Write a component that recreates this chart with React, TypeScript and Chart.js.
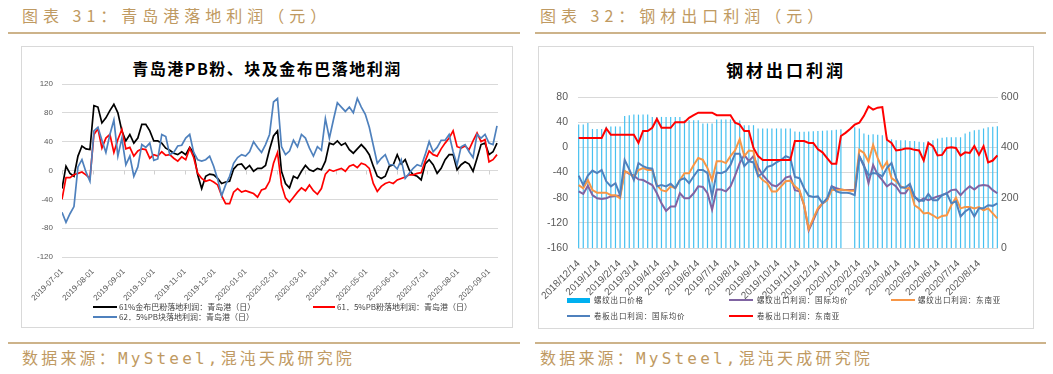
import React, { useEffect, useRef } from "react";
import { Chart, registerables } from "chart.js";

Chart.register(...registerables);

// ================= Left chart: 青岛港落地利润 =================
const LEFT_TICK_DAYS = [0, 31, 62, 92, 123, 153, 184, 215, 244, 275, 305, 336, 366, 397, 428];
const LEFT_TICK_LABELS = [
  "2019-07-01", "2019-08-01", "2019-09-01", "2019-10-01", "2019-11-01", "2019-12-01",
  "2020-01-01", "2020-02-01", "2020-03-01", "2020-04-01", "2020-05-01", "2020-06-01",
  "2020-07-01", "2020-08-01", "2020-09-01",
];
// sample positions: every 4th day counted from 2019-07-01
const LEFT_SAMPLE_DAYS = Array.from({ length: 110 }, (_, i) => i * 4);

const JMB_61 = [
  -25, 6, -4, -8, 20, 34, 30, 29, 90, 88,
  66, 73, 83, 92, 80, 55, 41, 50, 38, 45,
  64, 64, 55, 41, 41, 38, 31, 28, 24, 22,
  26, 22, 32, 24, -6, -25, -8, -5, -6, -11,
  -18, -16, -15, 2, 8, 9, 2, 7, -1, 3,
  3, 7, 29, 48, 55,
  -1, -18, -24, -8, -11, -1, 7, 1, -1, 3,
  1, 13, 38, 36, 41, 35, 38, 29, 24, 30,
  36, 30, 22, 6, -8, -11, -8, 6, 8, 22,
  9, 15, 1, -6, -8, -13, 9, 15, 8, -4,
  3, 15, 22, 22, 1, 8, 12, 9, -1, 17,
  36, 38, 22, 26, 38,
];
const PB_FINES_615 = [
  -40, -10, -10, -6, -4, -2, -6, -11, 50, 58,
  31, 45, 50, 25, 43, 57, 30, 32, 20, 27,
  30, 29, 17, 22, 20, 26, 21, 22, 17, 13,
  19, 15, 31, 18, -4, -11, -15, -13, -16, -20,
  -35, -46, -46, -30, -25, -30, -28, -30, -32, -37,
  -27, -25, -15, 10, 25,
  -20, -38, -44, -37, -30, -24, -28, -20, -28, -33,
  -25, -5, 1, -1, 1, 3, -1, 6, 8, 4,
  10, 8, 3, -18, -29, -22, -18, -16, -18, -13,
  -11, -9, -6, -6, -4, -3, 13, 27, 22, 20,
  30, 38, 45, 55, 33, 31, 34, 29, 41, 52,
  40, 43, 12, 15, 22,
];
const PB_LUMP_625 = [
  -58, -72, -60, -50, 5, 15, -2, -15, 55, 60,
  42, 25, 50, 70, 20, 45, 8, 20, -8, 5,
  36, 32, 38, 14, 16, 50, 47, 22, 25, 34,
  35, 45, 50, 25, 15, 13, 15, 20, 6, -12,
  -35, -20, -8, 10, 18, 22, 20, 26, 40, 32,
  25, 36, 50, 95, 100,
  33, 22, 27, 42, 33, 50, 45, 31, 20, 33,
  28, 72, 45, 70, 94, 88, 82, 88, 80, 100,
  88, 78, 60, 35, 10, 17, 22, 8, 8, 2,
  15, -11, -4, 3, 8, 6, 22, 40, 26, 32,
  42, 42, 50, 26, 8, 33, 36, 26, 18, 50,
  45, 50, 38, 36, 62,
];

// ================= Right chart: 钢材出口利润 =================
const RIGHT_TICK_DAYS = [0, 31, 62, 90, 121, 151, 182, 212, 243, 274, 304, 335, 365, 396, 427, 456, 487, 517, 548, 578, 609];
const RIGHT_TICK_LABELS = [
  "2018/12/14", "2019/1/14", "2019/2/14", "2019/3/14", "2019/4/14", "2019/5/14", "2019/6/14",
  "2019/7/14", "2019/8/14", "2019/9/14", "2019/10/14", "2019/11/14", "2019/12/14", "2020/1/14",
  "2020/2/14", "2020/3/14", "2020/4/14", "2020/5/14", "2020/6/14", "2020/7/14", "2020/8/14",
];
// weekly observations, days counted from 2018/12/14
const RIGHT_WEEK_DAYS = Array.from({ length: 92 }, (_, i) => i * 7);

const REBAR_EXPORT_PRICE = [
  491, 491, 497, 473, 473, 473, 483, 483, 483, 483,
  525, 527, 530, 530, 530, 530, 521, 521, 521, 521,
  521, 521, 521, 508, 508, 508, 508, 495, 495, 495,
  511, 511, 511, 511, 507, 507, 488, 488, 488, 475,
  475, 475, 475, 475, 475, 475, 475, 463, 462, 462,
  463, 464, 465, 466, 467, 468, 470, 472, null, null,
  480, 475, 455, 450, 452, 450, 448, 440, 432, 428,
  428, 428, 425, 425, 422, 420, 425, 428, 435, 438,
  440, 440, 440, 440, 455, 462, 468, 470, 475, 480,
  482, 484,
];
const REBAR_PROFIT_INTL = [
  -70, -74, -61, -76, -81, -82, -81, -78, -77, -77,
  -38, -42, -45, -51, -52, -56, -60, -73, -89, -101,
  -94, -94, -73, -81, -81, -73, -62, -63, -73, -99,
  -67, -67, -70, -62, -45, -25, -12, -22, -14, -32,
  -44, -52, -60, -62, -56, -48, -46, -68, -70, -92,
  -132, -116, -99, -89, -84, -62, -65, -67, -68, -68,
  -68, -14, -28, -57, -28, -44, -52, -62, -57, -62,
  -73, -73, -62, -78, -86, -81, -84, -81, -78, -76,
  -73, -68, -67, -76, -68, -62, -67, -61, -60, -61,
  -68, -73,
];
const REBAR_PROFIT_SEA = [
  -60, -65, -52, -68, -72, -72, -72, -76, -76, -81,
  -38, -41, -47, -36, -33, -36, -36, -60, -68, -70,
  -62, -65, -52, -41, -41, -28, -17, -20, -33, -52,
  -22, -22, -25, -14, -5, 13, -14, -5, -6, -44,
  -52, -57, -70, -70, -62, -54, -53, -62, -68, -92,
  -130, -113, -97, -89, -84, -68, -68, -67, -68, -69,
  -69, -4, -9, -23, 4, -17, -34, -23, -49, -54,
  -62, -65, -65, -92, -97, -105, -104, -108, -113, -109,
  -108, -92, -80, -97, -95, -95, -97, -95, -100, -97,
  -105, -113,
];
const HRC_PROFIT_INTL = [
  -45, -60, -45, -37, -41, -36, -54, -62, -57, -76,
  -20, -35, -52, -25, -30, -33, -34, -62, -60, -62,
  -58, -65, -52, -49, -57, -46, -36, -36, -41, -78,
  -40, -41, -38, -28, -10, -10, -30, -22, -24, -46,
  -41, -31, -29, -24, -20, -14, -17, -47, -49, -65,
  -77, -79, -78, -89, -81, -62, -70, -72, -72, -73,
  -76, -14, -30, -44, -41, -42, -46, -33, -25, -49,
  -64, -64, -58, -79, -84, -85, -74, -84, -84, -76,
  -73, -89, -86, -110, -102, -97, -110, -97, -97, -92,
  -93, -89,
];
const HRC_PROFIT_SEA = [
  15, 15, 15, 15, 15, 15, 30, 20, 20, 20,
  20, 20, 20, 7, 26, 26, 31, 45, 31, 31,
  31, 40, 40, 40, 47, 51, 55, 55, 55, 55,
  51, 51, 51, 51, 39, 36, 26, 26, -1, -14,
  -20, -20, -20, -20, -20, -20, -20, 10, 10, 10,
  7, 7, -3, -8, -17, -26, -26, 18, 23, 29,
  36, 39, 50, 65, 60, 63, 64, 12, 7, -5,
  -4, -2, -2, -4, -5, -21, 7, 2, -13, -12,
  -1, 0, -1, -13, -8, -9, 2, -12, 2, -24,
  -21, -13,
];

const AXIS_FONT = "'Liberation Sans', 'Noto Sans CJK SC', sans-serif";
const CJK_FONT = "'Noto Sans CJK SC', 'Noto Sans', sans-serif";
const TAN = "#bf9a62";
const TAN_LINE = "#cdb38a";

const pts = (xs: number[], ys: (number | null)[]) => ys.map((y, i) => ({ x: xs[i], y }));

// small tick marks on the horizontal axis crossing at zero (left chart)
const zeroTicksPlugin = {
  id: "zeroTicks",
  beforeDatasetsDraw(chart: any) {
    const { ctx, scales } = chart;
    const x = scales.x;
    const y = scales.y;
    const y0 = y.getPixelForValue(0);
    ctx.save();
    ctx.strokeStyle = "#d0d0d0";
    ctx.lineWidth = 1;
    ctx.beginPath();
    LEFT_TICK_DAYS.forEach((d) => {
      const px = Math.round(x.getPixelForValue(d)) + 0.5;
      ctx.moveTo(px, y0);
      ctx.lineTo(px, y0 + 4);
    });
    ctx.stroke();
    ctx.restore();
  },
};

function LeftChart() {
  const ref = useRef<HTMLCanvasElement | null>(null);
  useEffect(() => {
    if (!ref.current) return;
    const line = (label: string, data: number[], color: string, order: number) => ({
      label,
      data: pts(LEFT_SAMPLE_DAYS, data),
      borderColor: color,
      backgroundColor: color,
      borderWidth: 1.7,
      pointRadius: 0,
      tension: 0,
      order,
    });
    const chart = new Chart(ref.current, {
      type: "line",
      data: {
        datasets: [
          line("62．5%PB块落地利润：青岛港（日）", PB_LUMP_625, "#4f81bd", 0),
          line("61．5%PB粉落地利润：青岛港（日）", PB_FINES_615, "#ff0000", 1),
          line("61%金布巴粉落地利润：青岛港（日）", JMB_61, "#000000", 2),
        ] as any,
      },
      plugins: [zeroTicksPlugin],
      options: {
        responsive: false,
        animation: false,
        layout: { padding: { left: 0, right: 15, top: 38, bottom: 0 } },
        plugins: { legend: { display: false }, tooltip: { enabled: false }, title: { display: false } },
        scales: {
          x: {
            type: "linear",
            min: 0,
            max: 437,
            afterBuildTicks: (s: any) => {
              s.ticks = LEFT_TICK_DAYS.map((v) => ({ value: v }));
            },
            afterFit: (s: any) => {
              s.height = 71;
            },
            grid: { display: false },
            border: { display: false },
            ticks: {
              autoSkip: false,
              minRotation: 45,
              maxRotation: 45,
              padding: 2,
              color: "#595959",
              font: { size: 8, family: AXIS_FONT },
              callback: (_v: any, i: number) => LEFT_TICK_LABELS[i],
            },
          },
          y: {
            min: -120,
            max: 120,
            afterFit: (s: any) => {
              s.width = 41;
            },
            grid: { color: "#d9d9d9", lineWidth: 1, drawTicks: false },
            border: { display: false },
            ticks: { stepSize: 40, padding: 9, color: "#595959", font: { size: 8, family: AXIS_FONT } },
          },
        },
      } as any,
    });
    return () => chart.destroy();
  }, []);
  return (
    <canvas
      ref={ref}
      width={492}
      height={282}
      style={{ position: "absolute", left: 21, top: 46, width: 492, height: 282 }}
    />
  );
}

function RightChart() {
  const ref = useRef<HTMLCanvasElement | null>(null);
  useEffect(() => {
    if (!ref.current) return;
    const line = (label: string, data: number[], color: string, order: number) => ({
      type: "line",
      label,
      data: pts(RIGHT_WEEK_DAYS, data),
      borderColor: color,
      backgroundColor: color,
      borderWidth: 2,
      pointRadius: 0,
      tension: 0,
      yAxisID: "y",
      order,
    });
    const chart = new Chart(ref.current, {
      type: "bar",
      data: {
        datasets: [
          line("卷板出口利润：东南亚", HRC_PROFIT_SEA, "#ff0000", 0),
          line("卷板出口利润：国际均价", HRC_PROFIT_INTL, "#4f81bd", 1),
          line("螺纹出口利润：东南亚", REBAR_PROFIT_SEA, "#f79646", 2),
          line("螺纹出口利润：国际均价", REBAR_PROFIT_INTL, "#8064a2", 3),
          {
            type: "bar",
            label: "螺纹出口价格",
            data: pts(RIGHT_WEEK_DAYS, REBAR_EXPORT_PRICE),
            backgroundColor: "#45c0f0",
            borderWidth: 0,
            inflateAmount: 0,
            barThickness: 1.2,
            yAxisID: "y1",
            order: 4,
          },
        ] as any,
      },
      options: {
        responsive: false,
        animation: false,
        layout: { padding: { left: 0, right: 0, top: 51, bottom: 0 } },
        plugins: { legend: { display: false }, tooltip: { enabled: false }, title: { display: false } },
        scales: {
          x: {
            type: "linear",
            min: -1,
            max: 638,
            offset: false,
            afterBuildTicks: (s: any) => {
              s.ticks = RIGHT_TICK_DAYS.map((v) => ({ value: v }));
            },
            afterFit: (s: any) => {
              s.height = 81;
            },
            grid: { display: false },
            border: { display: false },
            ticks: {
              autoSkip: false,
              minRotation: 45,
              maxRotation: 45,
              padding: 2,
              color: "#595959",
              font: { size: 10, family: AXIS_FONT },
              callback: (_v: any, i: number) => RIGHT_TICK_LABELS[i],
            },
          },
          y: {
            position: "left",
            min: -160,
            max: 80,
            afterFit: (s: any) => {
              s.width = 40;
            },
            grid: { color: "#d9d9d9", lineWidth: 1, drawTicks: false },
            border: { display: false },
            ticks: { stepSize: 40, padding: 10, color: "#595959", font: { size: 10.5, family: AXIS_FONT } },
          },
          y1: {
            position: "right",
            min: 0,
            max: 600,
            afterFit: (s: any) => {
              s.width = 36;
            },
            grid: { display: false, drawTicks: false },
            border: { display: false },
            ticks: { stepSize: 200, padding: 3, color: "#595959", font: { size: 10.5, family: AXIS_FONT } },
          },
        },
      } as any,
    });
    return () => chart.destroy();
  }, []);
  return (
    <canvas
      ref={ref}
      width={496}
      height={283}
      style={{ position: "absolute", left: 538, top: 46, width: 496, height: 283 }}
    />
  );
}

const abs = (s: React.CSSProperties): React.CSSProperties => ({ position: "absolute", whiteSpace: "nowrap", ...s });

function Swatch({ left, top, w, h, color }: { left: number; top: number; w: number; h: number; color: string }) {
  return <div style={abs({ left, top, width: w, height: h, background: color })} />;
}

function LegendText({ left, top, text, size, spacing }: { left: number; top: number; text: string; size: number; spacing: number }) {
  return (
    <div
      style={abs({
        left,
        top: top - 6,
        height: 12,
        lineHeight: "12px",
        fontSize: size,
        letterSpacing: spacing,
        color: "#404040",
        fontFamily: CJK_FONT,
      })}
    >
      {text}
    </div>
  );
}

export default function App() {
  return (
    <div style={{ position: "absolute", left: 0, top: 0, width: 1053, height: 374, background: "#ffffff", overflow: "hidden" }}>
      {/* headers */}
      <div style={abs({ left: 22, top: 4, lineHeight: "22px", fontSize: 16, letterSpacing: 5, color: TAN, fontFamily: CJK_FONT })}>
        图表 31：青岛港落地利润（元）
      </div>
      <div style={abs({ left: 540, top: 4, lineHeight: "22px", fontSize: 16, letterSpacing: 5, color: TAN, fontFamily: CJK_FONT })}>
        图表 32：钢材出口利润（元）
      </div>
      <div style={abs({ left: 8, top: 32, width: 512, height: 2, background: TAN_LINE })} />
      <div style={abs({ left: 535, top: 32, width: 511, height: 2, background: TAN_LINE })} />

      {/* chart frames */}
      <div style={abs({ left: 21, top: 46, width: 490, height: 280, border: "1px solid #d9d9d9" })} />
      <div style={abs({ left: 538, top: 46, width: 494, height: 281, border: "1px solid #d9d9d9" })} />

      {/* chart titles */}
      <div style={abs({ left: 21, top: 57, width: 492, textAlign: "center", lineHeight: "22px", fontSize: 16, fontWeight: 700, letterSpacing: 1.5, color: "#000", fontFamily: CJK_FONT })}>
        青岛港PB粉、块及金布巴落地利润
      </div>
      <div style={abs({ left: 538, top: 59, width: 496, textAlign: "center", lineHeight: "22px", fontSize: 17, fontWeight: 700, letterSpacing: 3, color: "#000", fontFamily: CJK_FONT })}>
        钢材出口利润
      </div>

      <LeftChart />
      <RightChart />

      {/* left legend */}
      <Swatch left={93} top={306} w={24} h={2} color="#000000" />
      <LegendText left={119} top={307} text="61%金布巴粉落地利润：青岛港（日）" size={8} spacing={0} />
      <Swatch left={313} top={306} w={22} h={2} color="#ff0000" />
      <LegendText left={337} top={307} text="61．5%PB粉落地利润：青岛港（日）" size={8} spacing={0} />
      <Swatch left={93} top={316} w={24} h={2} color="#4f81bd" />
      <LegendText left={119} top={317} text="62．5%PB块落地利润：青岛港（日）" size={8} spacing={0} />

      {/* right legend */}
      <Swatch left={567} top={298} w={23} h={5} color="#00b0f0" />
      <LegendText left={594} top={300} text="螺纹出口价格" size={7.5} spacing={0.8} />
      <Swatch left={729} top={299} w={24} h={2} color="#8064a2" />
      <LegendText left={757} top={300} text="螺纹出口利润：国际均价" size={7.5} spacing={0.8} />
      <Swatch left={891} top={299} w={24} h={2} color="#f79646" />
      <LegendText left={918} top={300} text="螺纹出口利润：东南亚" size={7.5} spacing={0.8} />
      <Swatch left={567} top={315} w={23} h={2} color="#4f81bd" />
      <LegendText left={594} top={316} text="卷板出口利润：国际均价" size={7.5} spacing={0.8} />
      <Swatch left={729} top={315} w={24} h={2} color="#ff0000" />
      <LegendText left={757} top={316} text="卷板出口利润：东南亚" size={7.5} spacing={0.8} />

      {/* footers */}
      <div style={abs({ left: 8, top: 342, width: 512, height: 2, background: TAN_LINE })} />
      <div style={abs({ left: 535, top: 342, width: 511, height: 2, background: TAN_LINE })} />
      <div style={abs({ left: 22, top: 348, lineHeight: "22px", fontSize: 16, letterSpacing: 3.2, color: TAN, fontFamily: "'DejaVu Sans Mono', 'Noto Sans CJK SC', monospace" })}>
        数据来源：MySteel,混沌天成研究院
      </div>
      <div style={abs({ left: 540, top: 348, lineHeight: "22px", fontSize: 16, letterSpacing: 3.2, color: TAN, fontFamily: "'DejaVu Sans Mono', 'Noto Sans CJK SC', monospace" })}>
        数据来源：MySteel,混沌天成研究院
      </div>
    </div>
  );
}
